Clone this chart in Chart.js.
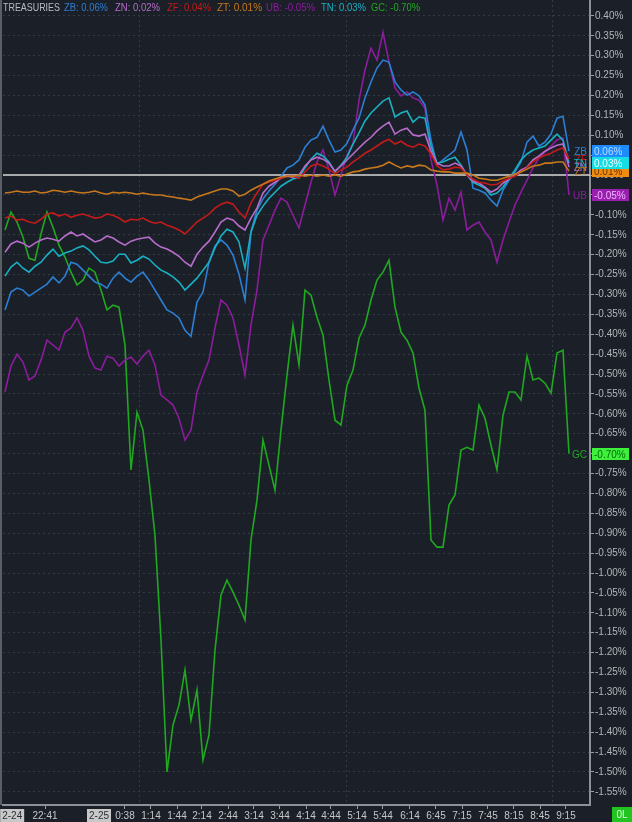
<!DOCTYPE html>
<html>
<head>
<meta charset="utf-8">
<script src="https://cdn.jsdelivr.net/npm/chart.js@4.4.0/dist/chart.umd.min.js"></script>
<style>
  html, body { margin: 0; padding: 0; background: #1b2028; }
  #wrap { width: 632px; height: 822px; }
</style>
</head>
<body>
<div id="wrap"><canvas id="chart" width="632" height="822"></canvas></div>
<script>
// % change since session open, one sample every ~7 minutes
const zb = [-0.339,-0.294,-0.284,-0.289,-0.304,-0.294,-0.284,-0.274,-0.256,-0.271,-0.254,-0.219,-0.224,-0.239,-0.254,-0.269,-0.274,-0.284,-0.259,-0.244,
  -0.259,-0.269,-0.254,-0.244,-0.264,-0.289,-0.314,-0.339,-0.347,-0.359,-0.390,-0.405,-0.319,-0.294,-0.219,-0.178,-0.163,-0.176,-0.201,-0.249,
  -0.314,-0.143,-0.088,-0.060,-0.040,-0.023,-0.003,0.018,0.025,0.038,0.070,0.088,0.095,0.123,0.088,0.058,0.063,0.080,0.113,0.143,
  0.194,0.234,0.269,0.289,0.284,0.234,0.214,0.201,0.209,0.199,0.176,0.088,0.025,0.038,0.050,0.063,0.108,0.063,-0.033,-0.038,
  -0.045,-0.063,-0.078,-0.038,-0.013,0.008,0.033,0.083,0.098,0.073,0.083,0.103,0.143,0.148,0.060];
const zn = [-0.194,-0.173,-0.166,-0.171,-0.181,-0.171,-0.163,-0.158,-0.161,-0.166,-0.153,-0.143,-0.153,-0.148,-0.158,-0.168,-0.163,-0.153,-0.158,-0.168,
  -0.176,-0.166,-0.161,-0.158,-0.156,-0.171,-0.181,-0.186,-0.194,-0.204,-0.219,-0.229,-0.199,-0.181,-0.166,-0.143,-0.118,-0.108,-0.113,-0.128,
  -0.138,-0.108,-0.083,-0.045,-0.028,-0.018,-0.008,-0.003,-0.005,0,0.023,0.038,0.045,0.040,0.030,0.010,0.023,0.038,0.053,0.068,
  0.083,0.095,0.111,0.123,0.133,0.103,0.113,0.118,0.101,0.098,0.103,0.060,0.030,0.023,0.023,0.030,0.023,0,-0.015,-0.020,
  -0.030,-0.043,-0.035,-0.020,-0.010,0,0.013,0.020,0.038,0.048,0.060,0.068,0.075,0.078,0.020];
const zf = [-0.108,-0.103,-0.113,-0.111,-0.118,-0.121,-0.111,-0.098,-0.095,-0.103,-0.098,-0.106,-0.101,-0.098,-0.103,-0.108,-0.106,-0.098,-0.101,-0.108,
  -0.118,-0.111,-0.113,-0.108,-0.116,-0.121,-0.118,-0.126,-0.131,-0.138,-0.148,-0.133,-0.118,-0.108,-0.098,-0.083,-0.073,-0.068,-0.073,-0.093,
  -0.108,-0.070,-0.045,-0.023,-0.018,-0.013,-0.008,-0.003,-0.003,-0.008,0.008,0.023,0.028,0.023,0.015,0.003,0.013,0.020,0.033,0.043,
  0.055,0.063,0.073,0.083,0.090,0.078,0.085,0.075,0.070,0.078,0.073,0.053,0.023,0.013,0.015,0.020,0.018,0,-0.010,-0.018,
  -0.020,-0.025,-0.023,-0.015,-0.008,-0.003,0.008,0.018,0.033,0.043,0.050,0.055,0.063,0.068,0.040];
const zt = [-0.045,-0.043,-0.040,-0.043,-0.043,-0.040,-0.045,-0.043,-0.038,-0.040,-0.043,-0.040,-0.043,-0.045,-0.043,-0.040,-0.045,-0.048,-0.043,-0.045,
  -0.043,-0.045,-0.048,-0.045,-0.048,-0.050,-0.050,-0.053,-0.055,-0.058,-0.060,-0.063,-0.055,-0.050,-0.045,-0.040,-0.035,-0.035,-0.040,-0.053,
  -0.048,-0.038,-0.030,-0.023,-0.015,-0.010,-0.005,-0.003,-0.003,0,-0.003,0,-0.003,0,-0.003,0,-0.003,0.003,0.008,0.010,
  0.015,0.018,0.020,0.025,0.033,0.025,0.018,0.023,0.020,0.025,0.023,0.013,0.010,0.008,0.008,0.005,0.005,0.005,0,-0.008,
  -0.010,-0.013,-0.013,-0.008,-0.003,0.003,0.008,0.015,0.023,0.025,0.030,0.030,0.033,0.033,0.010];
const ub = [-0.545,-0.480,-0.450,-0.470,-0.515,-0.505,-0.465,-0.415,-0.427,-0.440,-0.395,-0.384,-0.359,-0.390,-0.455,-0.485,-0.490,-0.455,-0.460,-0.480,
  -0.465,-0.457,-0.475,-0.455,-0.440,-0.477,-0.553,-0.565,-0.578,-0.611,-0.666,-0.641,-0.545,-0.503,-0.465,-0.384,-0.314,-0.327,-0.359,-0.427,
  -0.503,-0.377,-0.289,-0.163,-0.126,-0.088,-0.058,-0.068,-0.101,-0.133,-0.075,-0.018,0.033,0.063,0.013,-0.050,0,0.050,0.080,0.188,
  0.264,0.319,0.289,0.359,0.284,0.219,0.199,0.209,0.194,0.188,0.168,0.038,-0.025,-0.113,-0.058,-0.088,-0.043,-0.138,-0.126,-0.118,
  -0.143,-0.163,-0.219,-0.163,-0.118,-0.075,-0.043,-0.013,0.018,0.043,0.058,0.073,0.088,0.093,-0.050];
const tn = [-0.254,-0.231,-0.219,-0.234,-0.244,-0.229,-0.219,-0.201,-0.186,-0.204,-0.196,-0.191,-0.183,-0.178,-0.188,-0.204,-0.219,-0.221,-0.216,-0.199,
  -0.199,-0.221,-0.214,-0.204,-0.211,-0.226,-0.239,-0.246,-0.256,-0.269,-0.289,-0.274,-0.259,-0.239,-0.219,-0.183,-0.153,-0.136,-0.143,-0.168,
  -0.234,-0.143,-0.101,-0.078,-0.058,-0.043,-0.028,-0.018,-0.010,-0.005,0.018,0.040,0.055,0.048,0.033,0.008,0.025,0.045,0.078,0.106,
  0.136,0.156,0.171,0.186,0.194,0.146,0.156,0.161,0.133,0.146,0.143,0.073,0.030,0.033,0.040,0.045,0.025,0,-0.018,-0.025,
  -0.033,-0.050,-0.045,-0.030,-0.008,0.013,0.038,0.053,0.063,0.068,0.073,0.088,0.103,0.088,0.030];
const gc = [-0.138,-0.093,-0.118,-0.156,-0.209,-0.214,-0.148,-0.093,-0.131,-0.176,-0.206,-0.244,-0.276,-0.264,-0.234,-0.244,-0.289,-0.339,-0.327,-0.332,
  -0.427,-0.741,-0.596,-0.641,-0.766,-0.905,-1.168,-1.500,-1.382,-1.332,-1.244,-1.370,-1.294,-1.470,-1.407,-1.194,-1.055,-1.018,-1.048,-1.081,
  -1.118,-0.917,-0.817,-0.666,-0.729,-0.792,-0.641,-0.503,-0.377,-0.477,-0.289,-0.302,-0.357,-0.402,-0.515,-0.616,-0.628,-0.528,-0.490,-0.410,
  -0.377,-0.314,-0.264,-0.244,-0.214,-0.332,-0.395,-0.415,-0.447,-0.535,-0.591,-0.917,-0.935,-0.935,-0.829,-0.804,-0.691,-0.684,-0.691,-0.578,
  -0.611,-0.679,-0.741,-0.603,-0.545,-0.545,-0.565,-0.455,-0.515,-0.510,-0.523,-0.548,-0.447,-0.440,-0.700];

const seriesNames = ['ZT', 'ZF', 'ZN', 'TN', 'ZB', 'UB', 'GC'];
const seriesData = [zt, zf, zn, tn, zb, ub, gc];
const seriesColors = ['#c8781c', '#c41a1a', '#b76ccb', '#18b0c2', '#2b7fd4', '#8b1c9c', '#20a820'];

// time axis labels, placed on sample index
const xTickText = ['2-24', '22:41', '2-25', '0:38', '1:14', '1:44', '2:14', '2:44', '3:14', '3:44', '4:14',
  '4:44', '5:14', '5:44', '6:14', '6:45', '7:15', '7:45', '8:15', '8:45', '9:15'];
const xTickAt = [1.2, 6.67, 15.67, 20, 24.33, 28.67, 32.83, 37.17, 41.5, 45.83, 50.17,
  54.33, 58.67, 63, 67.5, 71.83, 76.17, 80.5, 84.83, 89.17, 93.5];
const dateTicks = ['2-24', '2-25'];
const xGridAt = [22.5, 57, 91.33];   // 1:00, 5:00, 9:00

const legendTitle = 'TREASURIES';
const legendOrder = ['ZB', 'ZN', 'ZF', 'ZT', 'UB', 'TN', 'GC'];
const legendX = [3, 64, 115, 167, 217, 266, 321, 371];
const legendW = [57, 44, 45, 44, 46, 49, 45, 49];
const tagOrder = ['ZN', 'ZF', 'ZB', 'ZT', 'TN', 'UB', 'GC'];
const tagStyle = {
  ZB: { bg: '#1e8cff', fg: '#b9dcff' },
  ZN: { bg: '#c070d8', fg: '#ffffff' },
  ZF: { bg: '#d01818', fg: '#ffffff' },
  ZT: { bg: '#f08c12', fg: '#6a3400' },
  TN: { bg: '#16dce4', fg: '#f0ffff' },
  UB: { bg: '#9a1fae', fg: '#f0b8ff' },
  GC: { bg: '#3cf03c', fg: '#086a08' }
};

const FONT = '10px "Liberation Sans", Arial, sans-serif';
const bg = '#1b2028';

function pct(v) {
  const s = (Math.abs(v) < 1e-9 ? 0 : v).toFixed(2);
  return s + '%';
}

const chartBg = {
  id: 'chartBg',
  beforeDraw(chart) {
    const c = chart.ctx;
    c.save();
    c.fillStyle = bg;
    c.fillRect(0, 0, chart.width, chart.height);
    c.restore();
  },
  beforeDatasetsDraw(chart) {
    const c = chart.ctx;
    const a = chart.chartArea;
    const y = chart.scales.y.getPixelForValue(0);
    c.save();
    c.strokeStyle = '#d6d6d6';
    c.lineWidth = 1.5;
    c.beginPath();
    c.moveTo(a.left, y);
    c.lineTo(a.right, y);
    c.stroke();
    // left window edge
    c.fillStyle = '#5a5f66';
    c.fillRect(0, 0, 2, a.bottom);
    c.restore();
  }
};

const overlay = {
  id: 'overlay',
  afterDraw(chart) {
    const c = chart.ctx;
    const ys = chart.scales.y;
    const a = chart.chartArea;
    c.save();
    c.font = FONT;
    c.textBaseline = 'middle';

    // legend strip
    c.fillStyle = '#b8bcc2';
    c.textAlign = 'left';
    c.fillText(legendTitle, legendX[0], 8, legendW[0]);
    legendOrder.forEach((name, j) => {
      const k = seriesNames.indexOf(name);
      const arr = seriesData[k];
      c.fillStyle = seriesColors[k];
      c.fillText(name + ': ' + pct(arr[arr.length - 1]), legendX[j + 1], 8, legendW[j + 1]);
    });

    // last value tags on the price axis
    tagOrder.forEach(name => {
      const k = seriesNames.indexOf(name);
      const arr = seriesData[k];
      const v = arr[arr.length - 1];
      const y = Math.round(ys.getPixelForValue(v));
      const st = tagStyle[name];
      c.fillStyle = st.bg;
      c.fillRect(a.right + 2, y - 6, 37, 12);
      c.fillStyle = st.fg;
      c.textAlign = 'left';
      c.fillText(pct(v), a.right + 4, y + 1);
      c.fillStyle = seriesColors[k];
      c.textAlign = 'right';
      c.fillText(name, a.right - 3, y + 1);
    });

    // bottom-right status box
    c.fillStyle = '#22c422';
    c.fillRect(612, 807, 20, 15);
    c.fillStyle = '#d8ffd8';
    c.textAlign = 'center';
    c.fillText('0L', 622, 815);
    c.restore();
  }
};

new Chart(document.getElementById('chart'), {
  type: 'line',
  data: {
    datasets: seriesNames.map((name, k) => ({
      label: name,
      data: seriesData[k].map((v, i) => ({ x: i, y: v })),
      borderColor: seriesColors[k],
      borderWidth: 1.6,
      pointRadius: 0,
      tension: 0,
      fill: false
    }))
  },
  options: {
    responsive: false,
    animation: false,
    events: [],
    layout: { padding: { left: 3, top: 0, right: 0, bottom: 0 } },
    plugins: { legend: { display: false }, tooltip: { enabled: false } },
    scales: {
      x: {
        type: 'linear',
        min: -0.33,
        max: 97.5,
        afterBuildTicks(scale) {
          scale.ticks = xTickAt.map(v => ({ value: v })).concat(xGridAt.map(v => ({ value: v })));
        },
        afterFit(scale) {
          scale.height = 17;
          scale.paddingLeft = 0;
          scale.paddingRight = 0;
        },
        ticks: {
          autoSkip: false,
          maxRotation: 0,
          padding: 1,
          font: { family: '"Liberation Sans", Arial, sans-serif', size: 10 },
          color: ctx => dateTicks.includes(xTickText[ctx.index]) ? '#2a2f36' : '#c4c6c9',
          showLabelBackdrop: ctx => dateTicks.includes(xTickText[ctx.index]),
          backdropColor: '#c8c8c8',
          backdropPadding: { left: 2, right: 2, top: 1, bottom: 1 },
          callback: (v, i) => i < xTickText.length ? xTickText[i] : ''
        },
        grid: {
          color: ctx => ctx.index >= xTickText.length ? '#353b44' : 'rgba(0,0,0,0)',
          tickColor: ctx => ctx.index < xTickText.length && !dateTicks.includes(xTickText[ctx.index]) ? '#9a9da2' : 'rgba(0,0,0,0)',
          tickLength: 4,
          tickBorderDash: [],
          lineWidth: 1
        },
        border: { display: true, color: '#8d9096', width: 2, dash: [2, 3] }
      },
      y: {
        position: 'right',
        min: -1.583,
        max: 0.44,
        afterBuildTicks(scale) {
          const t = [];
          for (let k = 8; k >= -31; k--) t.push({ value: k * 0.05 });
          scale.ticks = t;
        },
        afterFit(scale) {
          scale.width = 42;
          scale.paddingTop = 0;
          scale.paddingBottom = 0;
        },
        ticks: {
          padding: 1,
          font: { family: '"Liberation Sans", Arial, sans-serif', size: 10 },
          color: '#b2b5ba',
          callback: v => pct(v)
        },
        grid: {
          color: '#343a43',
          tickColor: '#9a9da2',
          tickLength: 4,
          tickBorderDash: [],
          lineWidth: 1
        },
        border: { display: true, color: '#8d9096', width: 2, dash: [2, 3] }
      }
    }
  },
  plugins: [chartBg, overlay]
});
</script>
</body>
</html>
